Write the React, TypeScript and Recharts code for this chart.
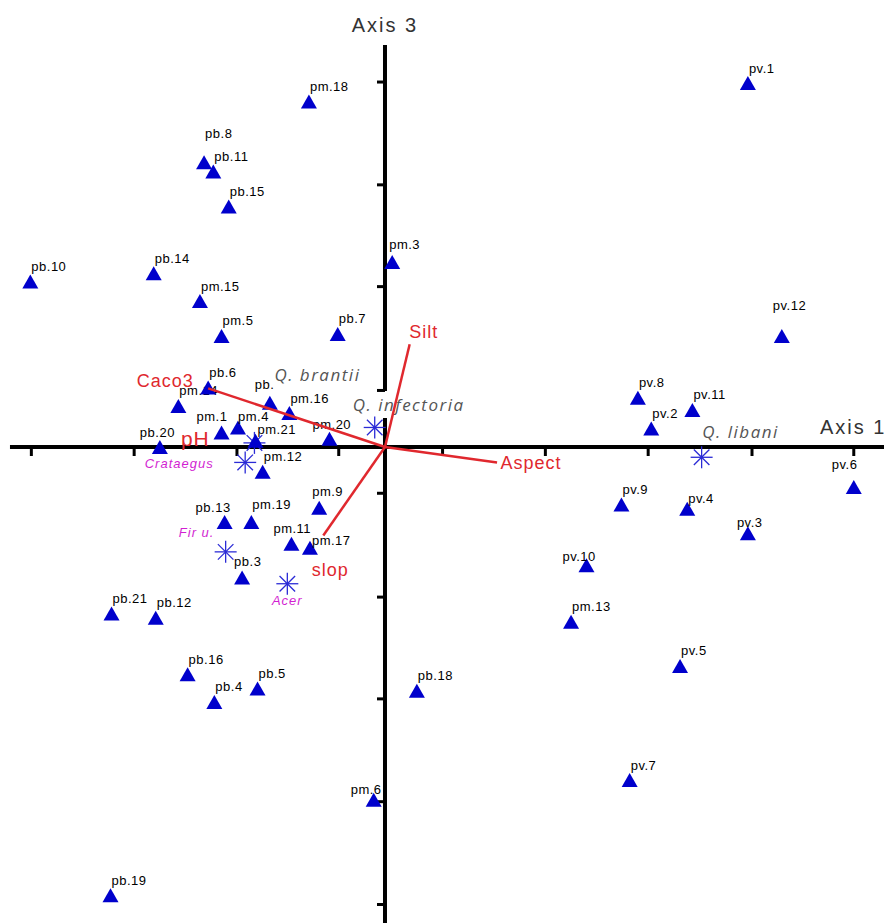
"use client";

import { Scatter, ScatterChart, XAxis, YAxis } from "recharts";

// site scores (Axis 1, Axis 3)
const siteNames: string[] = [
  "pm.18", "pb.8", "pb.11", "pb.15", "pm.3", "pb.10", "pb.14", "pm.15",
  "pm.5", "pb.7", "pm.14", "pb.6", "pm.1", "pm.4", "pb.", "pm.16",
  "pm.21", "pm.20", "pb.20", "pm.12", "pm.9", "pb.13", "pm.19", "pm.11",
  "pm.17", "pb.3", "pb.21", "pb.12", "pb.16", "pb.5", "pb.4", "pb.18",
  "pm.6", "pb.19", "pv.1", "pv.12", "pv.8", "pv.11", "pv.2", "pv.6",
  "pv.9", "pv.4", "pv.3", "pv.10", "pm.13", "pv.5", "pv.7",
];
const siteAxis1: number[] = [
  -0.74, -1.76, -1.67, -1.52, 0.07, -3.45, -2.25, -1.8,
  -1.59, -0.46, -2.01, -1.72, -1.59, -1.43, -1.12, -0.93,
  -1.26, -0.54, -2.19, -1.19, -0.64, -1.56, -1.3, -0.91,
  -0.73, -1.39, -2.66, -2.23, -1.92, -1.24, -1.66, 0.31,
  -0.11, -2.67, 3.53, 3.86, 2.46, 2.99, 2.59, 4.56,
  2.3, 2.94, 3.53, 1.96, 1.81, 2.87, 2.38,
];
const siteAxis3: number[] = [
  3.36, 2.77, 2.68, 2.34, 1.8, 1.61, 1.69, 1.42,
  1.08, 1.1, 0.4, 0.58, 0.14, 0.19, 0.43, 0.33,
  0.06, 0.08, 0.0, -0.24, -0.59, -0.73, -0.73, -0.94,
  -0.98, -1.27, -1.62, -1.66, -2.21, -2.35, -2.48, -2.37,
  -3.43, -4.36, 3.54, 1.08, 0.48, 0.36, 0.18, -0.39,
  -0.56, -0.6, -0.84, -1.15, -1.7, -2.13, -3.24,
];

// species scores
const speciesNames: string[] = ["Q. brantii", "Q. infectoria", "Q. libani", "Crataegus", "Fir u.", "Acer"];
const speciesAxis1: number[] = [-1.27, -0.1, 3.08, -1.36, -1.55, -0.95];
const speciesAxis3: number[] = [0.04, 0.19, -0.1, -0.15, -1.02, -1.33];

// environmental vectors
const envNames: string[] = ["Caco3", "pH", "Silt", "Aspect", "slop"];
const envAxis1: number[] = [-1.72, -1.65, 0.24, 1.09, -0.6];
const envAxis3: number[] = [0.57, 0.0, 1.0, -0.15, -0.86];

const axis1Ticks: number[] = [-3.44, -2.44, -1.44, -0.45, 0.56, 1.56, 2.56, 3.57, 4.56];
const axis3Ticks: number[] = [3.55, 2.55, 1.56, 0.55, -0.45, -1.46, -2.45, -3.45, -4.45];

const X_DOMAIN: [number, number] = [-3.745, 4.854];
const Y_DOMAIN: [number, number] = [-4.63, 4.348];

// pH arrow lies under the axis 1 line in the original plot
const envUnderAxis = ["pH"];

// label placement tweaks (px, from the point)
const siteLabelShift: Record<string, [number, number]> = {
  "pb.8": [1, -29],
  "pm.3": [-3, -17],
  "pm.1": [-25, -16],
  "pm.4": [0, -11],
  "pb.": [-15, -18],
  "pm.21": [2, -11],
  "pm.20": [-17, -14],
  "pb.20": [-20, -15],
  "pm.9": [-7, -16],
  "pb.13": [-29, -15],
  "pm.19": [1, -18],
  "pm.11": [-18, -15],
  "pm.17": [2, -7],
  "pb.3": [-8, -16],
  "pm.6": [-23, -10],
  "pv.12": [-9, -30],
  "pv.6": [-22, -23],
  "pv.4": [1, -10],
  "pv.3": [-11, -11],
  "pv.10": [-24, -9],
};
const speciesLabelShift: Record<string, [number, number]> = {
  "Q. brantii": [63, -68],
  "Q. infectoria": [34, -23],
  "Q. libani": [39, -26],
  Crataegus: [-66, 1],
  "Fir u.": [-29, -19],
  Acer: [0, 17],
};
const envLabelShift: Record<string, [number, number]> = {
  Caco3: [-43, -7],
  pH: [-20, -9],
  Silt: [14, -12],
  Aspect: [34, 1],
  slop: [7, 35],
};

const BLUE = "#0000cc";
const RED = "#e0282e";

const siteData = siteNames.map((name, i) => ({ name, x: siteAxis1[i], y: siteAxis3[i] }));
const speciesData = speciesNames.map((name, i) => ({ name, x: speciesAxis1[i], y: speciesAxis3[i] }));
const envEnds = envNames.map((name, i) => ({ name, x: envAxis1[i], y: envAxis3[i] }));

const empty = () => <g />;

const SiteShape = (props: any) => {
  const { cx, cy, payload } = props;
  const [dx, dy] = siteLabelShift[payload.name] ?? [1, -15];
  return (
    <g>
      <polygon points={`${cx},${cy - 7} ${cx - 8},${cy + 7} ${cx + 8},${cy + 7}`} fill={BLUE} />
      <text
        x={cx + dx}
        y={cy + dy}
        dominantBaseline="central"
        fontFamily="Liberation Sans, Arial, sans-serif"
        fontSize={13}
        letterSpacing={0.5}
        fill="#000"
      >
        {payload.name}
      </text>
    </g>
  );
};

const SpeciesShape = (props: any) => {
  const { cx, cy, payload } = props;
  const [dx, dy] = speciesLabelShift[payload.name] ?? [0, -20];
  const isOak = payload.name.startsWith("Q.");
  const r = 11;
  const d = r * Math.SQRT1_2;
  return (
    <g>
      <g stroke="#2b2bd6" strokeWidth={1.3}>
        <line x1={cx - r} y1={cy} x2={cx + r} y2={cy} />
        <line x1={cx} y1={cy - r} x2={cx} y2={cy + r} />
        <line x1={cx - d} y1={cy - d} x2={cx + d} y2={cy + d} />
        <line x1={cx - d} y1={cy + d} x2={cx + d} y2={cy - d} />
      </g>
      <text
        x={cx + dx}
        y={cy + dy}
        textAnchor="middle"
        dominantBaseline="central"
        fontFamily={isOak ? "Open Sans, sans-serif" : "Liberation Sans, Arial, sans-serif"}
        fontStyle="italic"
        fontSize={isOak ? 17 : 13}
        letterSpacing={isOak ? 1.5 : 1}
        fill={isOak ? "#555555" : "#d21fd2"}
      >
        {payload.name}
      </text>
    </g>
  );
};

const EnvLabel = (props: any) => {
  const { cx, cy, payload } = props;
  const [dx, dy] = envLabelShift[payload.name] ?? [0, 0];
  return (
    <text
      x={cx + dx}
      y={cy + dy}
      textAnchor="middle"
      dominantBaseline="central"
      fontFamily="Liberation Sans, Arial, sans-serif"
      fontSize={payload.name === "pH" ? 21 : 18}
      letterSpacing={1}
      fill={RED}
    >
      {payload.name}
    </text>
  );
};

const HTick = (props: any) => (
  <line x1={props.cx} y1={props.cy} x2={props.cx} y2={props.cy + 9} stroke="#000" strokeWidth={3} />
);
const VTick = (props: any) => (
  <line x1={props.cx - 8} y1={props.cy} x2={props.cx} y2={props.cy} stroke="#000" strokeWidth={3} />
);

const AxisTitle = (props: any) => {
  const { cx, cy, payload } = props;
  const isTop = payload.name === "Axis 3";
  return (
    <text
      x={isTop ? cx : cx - 64}
      y={cy - 20}
      textAnchor={isTop ? "middle" : "start"}
      dominantBaseline="central"
      fontFamily="Liberation Sans, Arial, sans-serif"
      fontSize={20}
      letterSpacing={2}
      fill="#333"
    >
      {payload.name}
    </text>
  );
};

const axisLine = { stroke: "#000", strokeWidth: 4 };

const envVector = (i: number) => (
  <Scatter
    key={envNames[i]}
    data={[
      { x: 0, y: 0 },
      { x: envAxis1[i], y: envAxis3[i] },
    ]}
    line={{ stroke: RED, strokeWidth: 2.5 }}
    shape={empty}
    isAnimationActive={false}
  />
);

export default function App() {
  const envIdx = envNames.map((_, i) => i);
  return (
    <div
      style={{
        position: "absolute",
        left: 0,
        top: 0,
        width: 884,
        height: 923,
        overflow: "hidden",
        background: "#fff",
      }}
    >
      <ScatterChart width={884} height={923} margin={{ top: 0, right: 0, bottom: 0, left: 0 }}>
        <XAxis type="number" dataKey="x" domain={X_DOMAIN} allowDataOverflow hide />
        <YAxis type="number" dataKey="y" domain={Y_DOMAIN} allowDataOverflow hide />

        {envIdx.filter((i) => envUnderAxis.includes(envNames[i])).map(envVector)}

        {/* ordination axes crossing at the origin */}
        <Scatter
          data={[{ x: -3.648, y: 0 }, { x: X_DOMAIN[1], y: 0 }]}
          line={axisLine}
          shape={empty}
          isAnimationActive={false}
        />
        <Scatter
          data={[{ x: 0, y: 3.91 }, { x: 0, y: 0.545 }]}
          line={axisLine}
          shape={empty}
          isAnimationActive={false}
        />
        <Scatter
          data={[{ x: 0, y: 0.282 }, { x: 0, y: Y_DOMAIN[0] }]}
          line={axisLine}
          shape={empty}
          isAnimationActive={false}
        />
        <Scatter data={axis1Ticks.map((t) => ({ x: t, y: 0 }))} shape={HTick} isAnimationActive={false} />
        <Scatter data={axis3Ticks.map((t) => ({ x: 0, y: t }))} shape={VTick} isAnimationActive={false} />

        <Scatter data={speciesData} shape={SpeciesShape} isAnimationActive={false} />
        <Scatter data={siteData} shape={SiteShape} isAnimationActive={false} />

        {envIdx.filter((i) => !envUnderAxis.includes(envNames[i])).map(envVector)}
        <Scatter data={envEnds} shape={EnvLabel} isAnimationActive={false} />

        <Scatter
          data={[
            { x: 0, y: 3.91, name: "Axis 3" },
            { x: X_DOMAIN[1], y: 0, name: "Axis 1" },
          ]}
          shape={AxisTitle}
          isAnimationActive={false}
        />
      </ScatterChart>
    </div>
  );
}
